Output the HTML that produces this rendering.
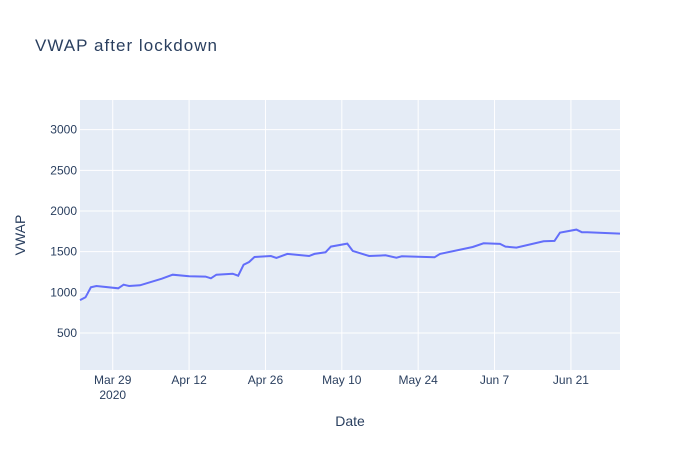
<!DOCTYPE html>
<html><head><meta charset="utf-8"><style>
body{margin:0;background:#fff;font-family:"Liberation Sans",sans-serif;}
svg text{font-family:"Liberation Sans",sans-serif;fill:#2a3f5f;}
</style></head><body>
<svg id="chart" width="700" height="450">
<rect width="700" height="450" fill="#fff"/>
<text x="35" y="51" font-size="17" textLength="182">VWAP after lockdown</text>
<rect x="80" y="100" width="540" height="270" fill="#e5ecf6"/>
<g id="grid"></g><g id="ticks"></g><g id="series"></g>
<text x="350" y="426" font-size="14" text-anchor="middle">Date</text>
<text transform="translate(25,235) rotate(-90)" font-size="14" text-anchor="middle">VWAP</text>
</svg>
<script>
const dates=["2020-03-23","2020-03-24","2020-03-25","2020-03-26","2020-03-30","2020-03-31","2020-04-01","2020-04-03","2020-04-07","2020-04-09","2020-04-12","2020-04-15","2020-04-16","2020-04-17","2020-04-20","2020-04-21","2020-04-22","2020-04-23","2020-04-24","2020-04-27","2020-04-28","2020-04-30","2020-05-04","2020-05-05","2020-05-07","2020-05-08","2020-05-11","2020-05-12","2020-05-15","2020-05-18","2020-05-20","2020-05-21","2020-05-27","2020-05-28","2020-06-03","2020-06-05","2020-06-08","2020-06-09","2020-06-11","2020-06-16","2020-06-18","2020-06-19","2020-06-22","2020-06-23","2020-06-24","2020-06-30"];
const vwap=[905,939,1062,1078,1050,1094,1078,1087,1168,1217,1197,1193,1173,1217,1229,1205,1340,1373,1435,1447,1423,1472,1447,1472,1492,1562,1599,1509,1447,1456,1426,1443,1431,1472,1558,1603,1595,1562,1550,1628,1632,1734,1771,1739,1739,1722];
const yTicks=[500,1000,1500,2000,2500,3000];
const xTickDates=["2020-03-29","2020-04-12","2020-04-26","2020-05-10","2020-05-24","2020-06-07","2020-06-21"];
const xTickLabels=["Mar 29","Apr 12","Apr 26","May 10","May 24","Jun 7","Jun 21"];
const X0=Date.UTC(2020,2,23),X1=Date.UTC(2020,5,30),Y0=45,Y1=3365;
const day=s=>{const[a,b,c]=s.split("-").map(Number);return Date.UTC(a,b-1,c);};
const xs=s=>80+(day(s)-X0)/(X1-X0)*540;
const ys=v=>370-(v-Y0)/(Y1-Y0)*270;
const NS="http://www.w3.org/2000/svg";
const g=document.getElementById("grid"),t=document.getElementById("ticks"),s=document.getElementById("series");
yTicks.forEach(v=>{
 const l=document.createElementNS(NS,"line");
 
 
 l.setAttribute("x1",80);l.setAttribute("x2",620);l.setAttribute("y1",ys(v));l.setAttribute("y2",ys(v));
 l.setAttribute("stroke","#fff");g.appendChild(l);
 const tx=document.createElementNS(NS,"text");
 
 
 tx.setAttribute("x",77);tx.setAttribute("y",ys(v)+4);tx.setAttribute("text-anchor","end");tx.setAttribute("font-size","12");
 tx.textContent=v;t.appendChild(tx);
});
xTickDates.forEach((d,i)=>{
 const l=document.createElementNS(NS,"line");
 
 
 l.setAttribute("x1",xs(d));l.setAttribute("x2",xs(d));l.setAttribute("y1",100);l.setAttribute("y2",370);
 l.setAttribute("stroke","#fff");g.appendChild(l);
 const tx=document.createElementNS(NS,"text");
 
 
 tx.setAttribute("x",xs(d));tx.setAttribute("y",384);tx.setAttribute("text-anchor","middle");tx.setAttribute("font-size","12");
 tx.textContent=xTickLabels[i];t.appendChild(tx);
});
const yr=document.createElementNS(NS,"text");


yr.setAttribute("x",xs(xTickDates[0]));yr.setAttribute("y",399);yr.setAttribute("text-anchor","middle");yr.setAttribute("font-size","12");
yr.textContent="2020";t.appendChild(yr);
const p=document.createElementNS(NS,"polyline");


p.setAttribute("points",dates.map((d,i)=>xs(d).toFixed(1)+","+ys(vwap[i]).toFixed(1)).join(" "));
p.setAttribute("fill","none");p.setAttribute("stroke","#636efa");p.setAttribute("stroke-width","2");
s.appendChild(p);
</script>
</body></html>
